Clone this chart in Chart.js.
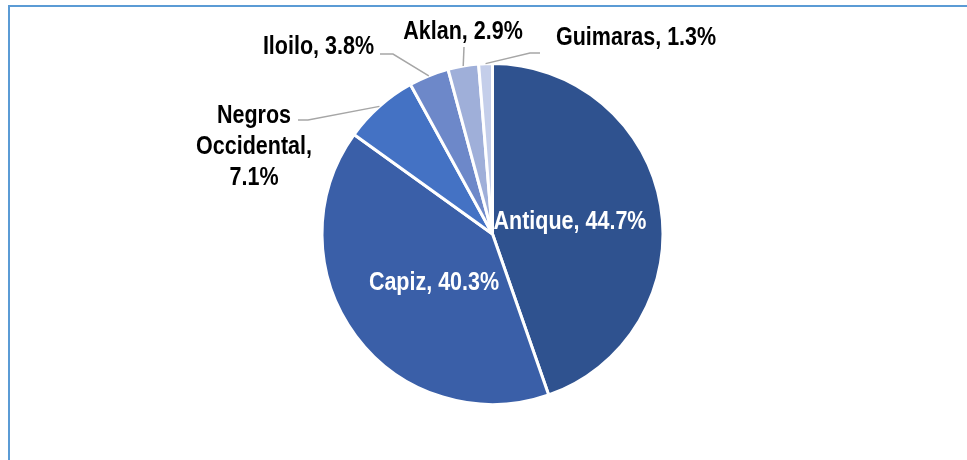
<!DOCTYPE html>
<html>
<head>
<meta charset="utf-8">
<script src="https://cdn.jsdelivr.net/npm/chart.js@4/dist/chart.umd.min.js"></script>
<style>
    body { margin: 0; background: #fff; }
    #wrap { position: relative; width: 967px; height: 460px; }
    #frame { position: absolute; left: 8px; top: 5px; width: 980px; height: 480px;
        border: 2px solid #5B9BD5; box-sizing: border-box; pointer-events: none; }
    canvas { position: absolute; left: 0; top: 0; }
</style>
</head>
<body>
<div id="wrap">
    <canvas id="chartCanvas" width="967" height="460"></canvas>
    <div id="frame"></div>
</div>
<script>
const provinces = ['Antique', 'Capiz', 'Negros Occidental', 'Iloilo', 'Aklan', 'Guimaras'];
const shares = [44.7, 40.3, 7.1, 3.8, 2.9, 1.3];
const sliceColors = ['#2F528F', '#3A5FA8', '#4472C4', '#6D88C9', '#9FAFD9', '#C4CEEA'];

// where each label goes (text lines, anchor, alignment, leader elbow)
const labelSpots = [
    { lines: ['Antique, 44.7%'], x: 570, y: 222, align: 'center', color: '#fff' },
    { lines: ['Capiz, 40.3%'], x: 434, y: 283, align: 'center', color: '#fff' },
    { lines: ['Negros', 'Occidental,', '7.1%'], x: 254, y: 116, align: 'center', color: '#000',
        leader: [[308, 120], [298, 120]] },
    { lines: ['Iloilo, 3.8%'], x: 374, y: 47, align: 'right', color: '#000',
        leader: [[393, 54], [380, 54]] },
    { lines: ['Aklan, 2.9%'], x: 463, y: 32, align: 'center', color: '#000',
        leader: [[464, 47]] },
    { lines: ['Guimaras, 1.3%'], x: 556, y: 38, align: 'left', color: '#000',
        leader: [[530, 53], [540, 53]] }
];

// no narrow font installed, so squeeze a regular bold face
const labelFont = 'bold 25px "Liberation Sans", Arial, sans-serif';
const squeeze = 0.86;

const pieLabels = {
    id: 'pieLabels',
    afterDatasetsDraw(chart) {
        const ctx = chart.ctx;
        const arcs = chart.getDatasetMeta(0).data;
        ctx.save();
        arcs.forEach((arc, i) => {
            const spot = labelSpots[i];
            if (spot.leader) {
                const mid = (arc.startAngle + arc.endAngle) / 2;
                ctx.beginPath();
                ctx.moveTo(arc.x + Math.cos(mid) * arc.outerRadius, arc.y + Math.sin(mid) * arc.outerRadius);
                spot.leader.forEach(p => ctx.lineTo(p[0], p[1]));
                ctx.strokeStyle = '#A6A6A6';
                ctx.lineWidth = 1.5;
                ctx.stroke();
            }
            ctx.font = labelFont;
            ctx.fillStyle = spot.color;
            ctx.textAlign = spot.align;
            ctx.textBaseline = 'middle';
            spot.lines.forEach((t, k) => {
                ctx.save();
                ctx.translate(spot.x, spot.y + k * 31);
                ctx.scale(squeeze, 1);
                ctx.fillText(t, 0, 0);
                ctx.restore();
            });
        });
        ctx.restore();
    }
};

const ctx = document.getElementById('chartCanvas').getContext('2d');
new Chart(ctx, {
    type: 'pie',
    data: {
        labels: provinces,
        datasets: [{
            data: shares,
            backgroundColor: sliceColors,
            borderColor: '#ffffff',
            borderWidth: 3
        }]
    },
    options: {
        responsive: false,
        animation: false,
        layout: { padding: { top: 62, bottom: 54, left: 18, right: 0 } },
        plugins: {
            legend: { display: false },
            tooltip: { enabled: false }
        }
    },
    plugins: [pieLabels]
});
</script>
</body>
</html>
